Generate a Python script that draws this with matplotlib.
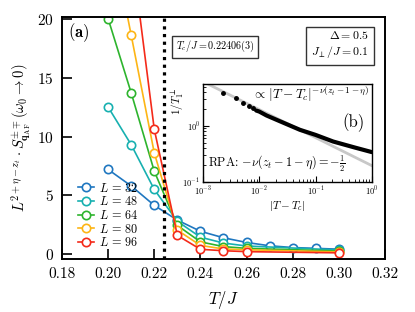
#!/usr/bin/env python3

import numpy as np
import matplotlib
matplotlib.use('Agg')
import matplotlib.pyplot as plt
import matplotlib.ticker as mticker

plt.rcParams['font.family'] = 'serif'
plt.rcParams['font.serif'] = ['cmr10', 'DejaVu Serif']
plt.rcParams['mathtext.fontset'] = 'cm'
plt.rcParams['axes.unicode_minus'] = False
plt.rcParams['axes.formatter.use_mathtext'] = True

Tc = 0.22406

# Main panel data: L^(2+eta-z_t) * S(omega -> 0) vs T/J
sizes = [32, 48, 64, 80, 96]
T_L32 = [0.20, 0.21, 0.22, 0.23, 0.24, 0.25, 0.26, 0.27, 0.28, 0.29, 0.30]
S_L32 = [7.2, 5.8, 4.15, 2.9, 1.95, 1.4, 1.0, 0.72, 0.57, 0.5, 0.43]
T_other = [0.20, 0.21, 0.22, 0.23, 0.24, 0.25, 0.26, 0.30]
S_L48 = [12.5, 9.3, 5.5, 2.8, 1.45, 0.95, 0.7, 0.36]
S_L64 = [20.0, 13.7, 7.05, 2.45, 1.05, 0.65, 0.5, 0.27]
S_L80 = [28.5, 18.6, 8.6, 2.05, 0.75, 0.45, 0.38, 0.2]
S_L96 = [48.0, 26.0, 10.6, 1.6, 0.42, 0.3, 0.22, 0.12]

colors = ['#1f77c0', '#17b0b0', '#2db42d', '#fdb515', '#f42a1a']

# Inset data: 1/T1 vs |T - Tc|
dT_sparse = [0.0023, 0.0038, 0.0052, 0.0066, 0.0078]
rate_sparse = [3.84, 3.12, 2.61, 2.30, 2.12]
dT_dense = [0.0088, 0.010, 0.0135, 0.02, 0.0528, 0.1, 0.206, 0.5, 1.0]
rate_dense = [1.88, 1.80, 1.53, 1.29, 0.85, 0.69, 0.525, 0.41, 0.34]
rpa_dT = [1e-3, 1.0]
rpa_rate = [6.17, 0.195]

fig = plt.figure(figsize=(4.15, 3.12), dpi=100)
ax = fig.add_axes([0.1494, 0.170, 0.7783, 0.7755])

series = [(T_L32, S_L32), (T_other, S_L48), (T_other, S_L64),
          (T_other, S_L80), (T_other, S_L96)]
for L, (T, S), c in zip(sizes, series, colors):
    ax.plot(T, S, '-o', color=c, lw=1.2, ms=6, mfc='white', mec=c, mew=1.2,
            label=f'$L\\,=\\,{L}$')

ax.axvline(Tc, color='black', lw=2.3, linestyle=(0, (1, 1.4)))

ax.set_xlim(0.18, 0.32)
ax.set_ylim(-0.4, 20.15)
ax.xaxis.set_major_locator(mticker.MultipleLocator(0.02))
ax.xaxis.set_major_formatter(mticker.FormatStrFormatter('%.2f'))
ax.yaxis.set_major_locator(mticker.MultipleLocator(5))
ax.tick_params(direction='in', length=7, width=1.2, labelsize=11, pad=6)
for sp in ax.spines.values():
    sp.set_linewidth(1.4)

ax.set_xlabel('$T/J$', fontsize=12, labelpad=6)
ax.set_ylabel(r'$L^{2+\eta-z_t}\cdot S^{\pm\mp}_{\mathbf{q}_{\mathrm{AF}}}(\omega_0\rightarrow 0)$',
              fontsize=10.5, labelpad=3)

ax.legend(loc='lower left', bbox_to_anchor=(0.02, 0.0), frameon=False,
          fontsize=8.8, handlelength=1.3, handletextpad=0.4,
          labelspacing=0.05, borderpad=0.3)

ax.text(0.02, 0.935, r'$\mathbf{(a)}$', transform=ax.transAxes, fontsize=12,
        va='center', ha='left')
ax.text(0.352, 0.877, r'$T_c/J = 0.22406(3)$', transform=ax.transAxes,
        fontsize=7.3, va='center', ha='left',
        bbox=dict(boxstyle='square,pad=0.35', fc='white', ec='#333333', lw=1))
ax.text(0.95, 0.885, '$\\Delta = 0.5$\n$J_\\perp/J = 0.1$',
        transform=ax.transAxes, fontsize=8.5, va='center', ha='right',
        multialignment='right', linespacing=1.3,
        bbox=dict(boxstyle='square,pad=0.4', fc='white', ec='#333333', lw=1))

# Inset (b)
ins = fig.add_axes([0.489, 0.417, 0.407, 0.314])
ins.plot(rpa_dT, rpa_rate, color='#c8c8c8', lw=2)
ins.plot(dT_sparse, rate_sparse, 'o', color='black', ms=2.5)
ins.plot(dT_dense, rate_dense, '-', color='black', lw=3,
         solid_capstyle='round')
ins.set_xscale('log')
ins.set_yscale('log')
ins.set_xlim(1e-3, 1e0)
ins.set_ylim(1e-1, 5.6)
ins.xaxis.set_major_locator(mticker.LogLocator(base=10, numticks=10))
ins.yaxis.set_major_locator(mticker.FixedLocator([0.1, 1.0]))
ins.tick_params(which='both', direction='in', labelsize=6, pad=2)
ins.tick_params(which='major', length=4, width=0.8)
ins.tick_params(which='minor', length=2, width=0.6)
for sp in ins.spines.values():
    sp.set_linewidth(1.0)
ins.set_xlabel(r'$|T-T_c|$', fontsize=8, labelpad=1)
ins.set_ylabel(r'$1/T_1^{\perp}$', fontsize=8, labelpad=1)
ins.yaxis.set_label_coords(-0.1, 0.82)
ins.text(0.985, 0.9, r'$\propto\,|T-T_c|^{-\nu(z_t-1-\eta)}$',
         transform=ins.transAxes, fontsize=9.5, ha='right', va='center')
ins.text(0.96, 0.6, '(b)', transform=ins.transAxes, fontsize=12,
         ha='right', va='center')
ins.text(0.03, 0.18, r'RPA: $-\nu(z_t-1-\eta) = -\frac{1}{2}$',
         transform=ins.transAxes, fontsize=8.8, ha='left', va='center')

fig.savefig('out.png', dpi=100)
